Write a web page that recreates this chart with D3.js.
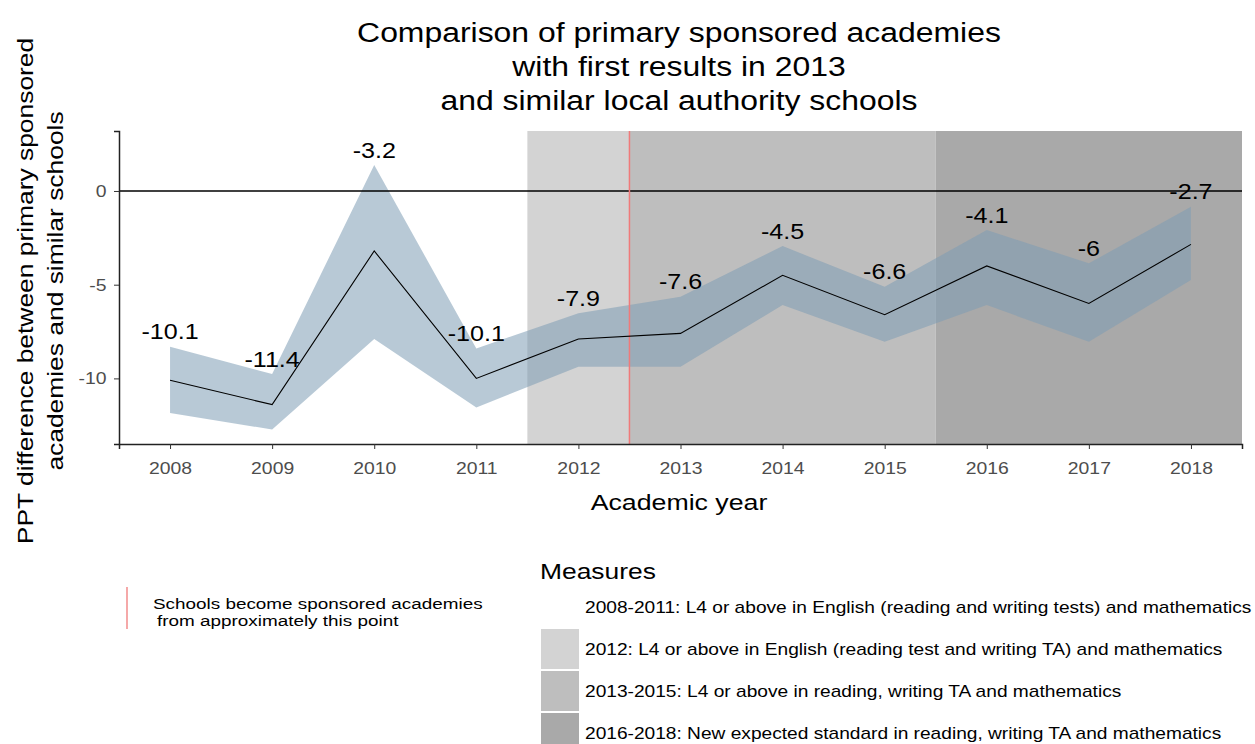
<!DOCTYPE html>
<html><head><meta charset="utf-8">
<script src="https://cdn.jsdelivr.net/npm/d3@7"></script>
<style>body{margin:0;background:#fff;} text{font-family:"Liberation Sans",Arial,sans-serif;}</style>
</head><body><svg id="c" width="1255" height="744"></svg>
<script>
const years = [2008, 2009, 2010, 2011, 2012, 2013, 2014, 2015, 2016, 2017, 2018];
const values = [-10.1, -11.4, -3.2, -10.0, -7.9, -7.6, -4.5, -6.6, -4.0, -6.0, -2.85];
const labels = ["-10.1", "-11.4", "-3.2", "-10.1", "-7.9", "-7.6", "-4.5", "-6.6", "-4.1", "-6", "-2.7"];
const lower = [-11.84, -12.73, -7.9, -11.55, -9.38, -9.38, -6.09, -8.05, -6.09, -8.05, -4.75];
const upper = [-8.31, -9.77, 1.39, -8.4, -6.53, -5.64, -2.94, -5.11, -2.08, -3.86, -0.84];
const yTicks = [0, -5, -10];
const periodStart = [2011.5, 2012.5, 2015.5];
const periodEnd = [2012.5, 2015.5, 2018.5];
const periodColors = ["#d3d3d3", "#bebebe", "#a9a9a9"];
const academyYear = 2012.5;
const legendLabels = [
  "2008-2011: L4 or above in English (reading and writing tests) and mathematics",
  "2012: L4 or above in English (reading test and writing TA) and mathematics",
  "2013-2015: L4 or above in reading, writing TA and mathematics",
  "2016-2018: New expected standard in reading, writing TA and mathematics"];
const legendColors = ["#ffffff", "#d3d3d3", "#bebebe", "#a9a9a9"];
const titleLines = ["Comparison of primary sponsored academies", "with first results in 2013", "and similar local authority schools"];
const yTitleLines = ["PPT difference between primary sponsored", "academies and similar schools"];

const svg = d3.select("#c");
const L = 119, R = 1242, T = 131, B = 444;
const x = d3.scaleLinear().domain([2007.5, 2018.5]).range([L, R]);
const y = d3.scaleLinear().domain([-13.5, 3.2]).range([B, T]);

function stext(parent, px, py, str, size, sx, anchor, rot) {
  return parent.append("text")
    .attr("transform", `translate(${px},${py})${rot ? " rotate(" + rot + ")" : ""} scale(${sx},1)`)
    .attr("text-anchor", anchor || "start").attr("font-size", size).attr("fill", "#000").text(str);
}

// shaded periods
svg.append("g").selectAll("rect").data(periodStart).join("rect")
  .attr("x", (d) => x(d)).attr("y", T)
  .attr("width", (d, i) => x(periodEnd[i]) - x(d)).attr("height", B - T)
  .attr("fill", (d, i) => periodColors[i]);

const pts = years.map((yr, i) => ({yr, v: values[i], lo: lower[i], hi: upper[i], lab: labels[i]}));

// ribbon
svg.append("path").datum(pts)
  .attr("d", d3.area().x(d => x(d.yr)).y0(d => y(d.lo)).y1(d => y(d.hi)))
  .attr("fill", "#7d9db4").attr("fill-opacity", 0.55);

// zero line
svg.append("line").attr("x1", L).attr("x2", R).attr("y1", y(0)).attr("y2", y(0))
  .attr("stroke", "#000").attr("stroke-width", 1.3);

// red vline
svg.append("line").attr("x1", x(academyYear)).attr("x2", x(academyYear)).attr("y1", T).attr("y2", B)
  .attr("stroke", "#f07a7a").attr("stroke-width", 1.5);

// main line
svg.append("path").datum(pts)
  .attr("d", d3.line().x(d => x(d.yr)).y(d => y(d.v)))
  .attr("fill", "none").attr("stroke", "#000").attr("stroke-width", 1.1);

// labels
const lbl = svg.append("g");
pts.forEach(d => stext(lbl, x(d.yr), y(d.hi) - 15 + 7.7, d.lab, 22, 1.14, "middle"));

// axes
const xAxis = d3.axisBottom(x).tickValues(years).tickFormat(d3.format("d")).tickSize(5).tickPadding(13);
const gx = svg.append("g").attr("transform", `translate(0,${B})`).call(xAxis);
gx.select(".domain").attr("stroke", "#222").attr("stroke-width", 1.5);
gx.selectAll(".tick line").attr("stroke", "#333");
gx.selectAll("text").attr("font-size", 17).attr("fill", "#4d4d4d")
  .attr("font-family", "Liberation Sans, Arial, sans-serif").attr("transform", "scale(1.14,1)");

const yAxis = d3.axisLeft(y).tickValues(yTicks).tickFormat(d => String(d)).tickSize(5).tickPadding(6);
const gy = svg.append("g").attr("transform", `translate(${L},0)`).call(yAxis);
gy.select(".domain").attr("stroke", "#222").attr("stroke-width", 1.5);
gy.selectAll(".tick line").attr("stroke", "#333");
gy.selectAll("text").attr("font-size", 17).attr("fill", "#4d4d4d")
  .attr("font-family", "Liberation Sans, Arial, sans-serif").attr("transform", "scale(1.14,1)");

// title
const tg = svg.append("g");
titleLines.forEach((t, i) => stext(tg, 679, 42 + i * 34, t, 28, 1.14, "middle"));

// axis titles
stext(svg, 679, 510, "Academic year", 22, 1.215, "middle");
yTitleLines.forEach((t, i) => stext(svg, 33 + i * 30, 291, t, 22, 1.2, "middle", -90));

// red legend
svg.append("line").attr("x1", 127).attr("x2", 127).attr("y1", 587).attr("y2", 629)
  .attr("stroke", "#f07a7a").attr("stroke-width", 1.3);
stext(svg, 153, 609, "Schools become sponsored academies", 15, 1.26);
stext(svg, 157, 626, "from approximately this point", 15, 1.26);

// measures legend
stext(svg, 540, 579, "Measures", 22, 1.2);
const lg = svg.append("g").selectAll("g").data(legendLabels).join("g")
  .attr("transform", (d, i) => `translate(541,${587 + i * 42})`);
lg.append("rect").attr("width", 38).attr("height", 40).attr("fill", (d, i) => legendColors[i]);
lg.each(function(d) { stext(d3.select(this), 44, 25.5, d, 16, 1.197); });
</script></body></html>
